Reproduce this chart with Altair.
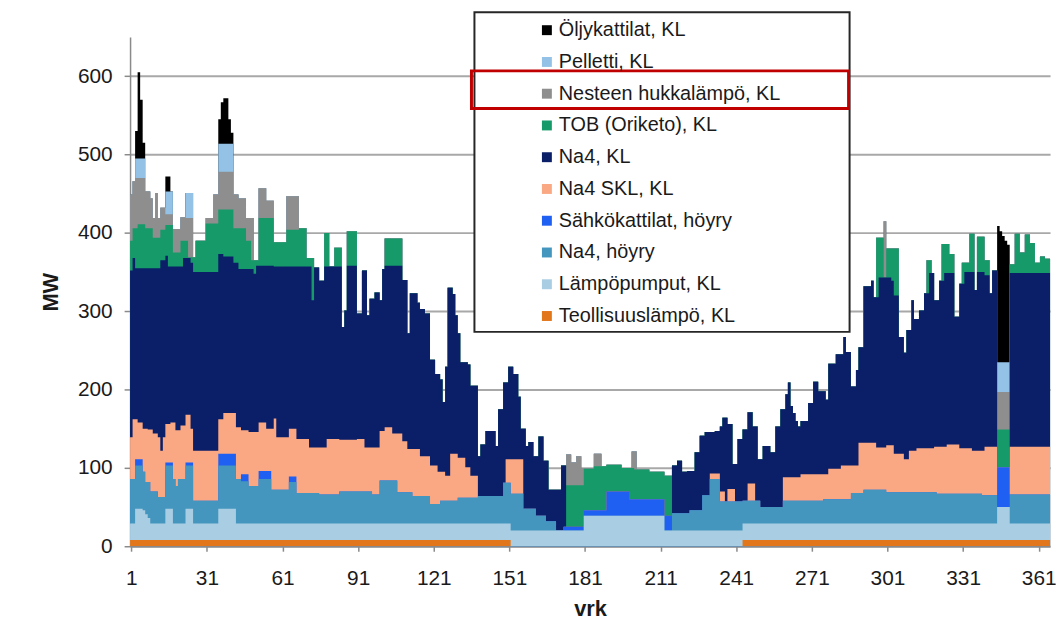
import altair as alt
import pandas as pd

DAYS = 365

# Stack order, bottom to top
SERIES = [
    "Teollisuuslämpö, KL",
    "Lämpöpumput, KL",
    "Na4, höyry",
    "Sähkökattilat, höyry",
    "Na4 SKL, KL",
    "Na4, KL",
    "TOB (Oriketo), KL",
    "Nesteen hukkalämpö, KL",
    "Pelletti, KL",
    "Öljykattilat, KL",
]
COLORS = [
    "#e2761b", "#a9cde3", "#4596bf", "#1f5ff2", "#f9a883",
    "#0b1e68", "#169a6a", "#8e8e8e", "#93c2e6", "#000000",
]

# Upper edge (MW) of each band, as (number of days, level) runs.
# 0 means the band is absent on those days.
top_teollisuus = [(151, 8), (92, 0), (122, 8)]
top_lampopumput = [(2, 29), (3, 48), (1, 46), (1, 41), (1, 36), (6, 29), (3, 48), (5, 29),
                   (3, 48), (10, 29), (7, 48), (109, 29), (29, 20), (32, 39), (31, 20),
                   (101, 29), (5, 50), (16, 29)]
top_na4_hoyry = [(2, 86), (3, 103), (1, 95), (2, 82), (3, 70), (3, 63), (3, 103), (1, 86),
                 (1, 77), (3, 86), (3, 103), (10, 58), (7, 103), (2, 86), (3, 83), (4, 77),
                 (5, 86), (7, 72), (3, 82), (9, 68), (8, 66), (13, 70), (3, 66), (7, 84),
                 (6, 69), (7, 64), (4, 54), (7, 58), (8, 62), (10, 64), (3, 81), (5, 67),
                 (5, 48), (4, 39), (4, 32), (46, 0), (7, 42), (5, 46), (3, 65), (4, 86),
                 (9, 57), (7, 58), (9, 50), (16, 58), (11, 60), (5, 68), (9, 72), (20, 69),
                 (18, 67), (6, 65), (5, 0), (16, 66)]
top_sahko = [(2, 0), (3, 111), (9, 0), (3, 107), (5, 0), (3, 107), (10, 0), (7, 118), (2, 0),
             (3, 92), (4, 0), (5, 96), (7, 0), (3, 89), (106, 0), (8, 25), (9, 46), (9, 70),
             (14, 60), (3, 39), (129, 0), (5, 101), (16, 0)]
top_na4_skl = [(1, 139), (2, 162), (2, 158), (2, 150), (2, 149), (2, 144), (1, 139), (1, 122),
               (1, 139), (2, 156), (2, 158), (2, 148), (2, 154), (2, 168), (1, 150), (10, 122),
               (2, 162), (5, 170), (2, 152), (3, 148), (4, 146), (3, 158), (3, 150), (1, 163),
               (5, 139), (3, 150), (5, 137), (7, 126), (5, 137), (7, 136), (3, 137), (6, 126),
               (2, 147), (3, 152), (4, 144), (2, 134), (5, 124), (4, 115), (3, 103), (3, 95),
               (2, 90), (3, 118), (3, 113), (2, 101), (3, 90), (11, 0), (7, 111), (74, 0),
               (4, 93), (2, 70), (1, 0), (3, 73), (5, 0), (3, 80), (11, 0), (7, 88), (11, 92),
               (5, 99), (7, 103), (7, 132), (4, 126), (3, 129), (4, 118), (2, 111), (3, 122),
               (7, 125), (5, 127), (5, 130), (5, 125), (5, 122), (5, 127), (5, 0), (16, 127)]
top_na4_kl = [(1, 352), (1, 368), (10, 355), (2, 365), (1, 371), (6, 357), (3, 368), (1, 362),
              (10, 350), (2, 373), (4, 370), (2, 362), (6, 354), (1, 348), (7, 358), (15, 357),
              (1, 314), (2, 356), (2, 339), (7, 357), (1, 280), (1, 301), (4, 358), (2, 297),
              (2, 352), (1, 295), (2, 316), (2, 324), (1, 314), (1, 354), (7, 358), (2, 340),
              (1, 272), (3, 323), (1, 311), (2, 303), (2, 297), (2, 238), (2, 220), (1, 213),
              (1, 184), (1, 229), (2, 330), (1, 322), (1, 295), (1, 272), (3, 235), (1, 232),
              (3, 205), (1, 115), (2, 130), (4, 147), (1, 128), (2, 175), (2, 209), (2, 229),
              (2, 220), (1, 191), (2, 150), (1, 128), (2, 133), (2, 115), (2, 140), (2, 109),
              (5, 72), (2, 103), (42, 0), (2, 103), (2, 109), (2, 95), (3, 96), (2, 120),
              (2, 141), (4, 146), (2, 147), (1, 153), (2, 164), (2, 156), (2, 105), (2, 137),
              (2, 149), (2, 171), (2, 153), (2, 111), (3, 128), (2, 120), (2, 153), (2, 175),
              (1, 194), (1, 209), (1, 179), (1, 170), (1, 160), (1, 153), (3, 160), (2, 183),
              (2, 210), (3, 198), (1, 187), (3, 233), (3, 245), (1, 267), (2, 248), (2, 204),
              (1, 225), (2, 254), (3, 332), (1, 339), (2, 318), (5, 343), (1, 339), (2, 320),
              (2, 267), (1, 247), (2, 276), (1, 314), (2, 290), (2, 301), (2, 323), (2, 349),
              (2, 314), (2, 339), (4, 349), (2, 293), (2, 335), (4, 350), (1, 327), (3, 350),
              (2, 346), (1, 323), (2, 352), (5, 0), (16, 349)]
top_tob = [(1, 390), (2, 406), (3, 411), (3, 406), (3, 394), (2, 404), (3, 410), (3, 375),
           (3, 390), (3, 369), (4, 390), (5, 412), (6, 430), (5, 406), (2, 390), (3, 365),
           (6, 419), (5, 388), (5, 404), (3, 406), (3, 368), (4, 0), (2, 400), (2, 0),
           (3, 381), (2, 0), (4, 402), (11, 0), (7, 393), (65, 0), (7, 78), (4, 99), (5, 102),
           (6, 104), (5, 100), (6, 98), (6, 95), (3, 90), (81, 0), (3, 394), (1, 0), (5, 380),
           (11, 0), (2, 365), (4, 0), (3, 386), (2, 373), (3, 0), (3, 362), (2, 399), (1, 0),
           (3, 395), (2, 365), (3, 0), (5, 149), (2, 360), (2, 399), (2, 375), (2, 398),
           (2, 387), (2, 362), (2, 370), (2, 367)]
top_neste = [(1, 449), (1, 466), (4, 470), (2, 453), (1, 444), (1, 419), (1, 451), (1, 419),
             (2, 432), (3, 424), (3, 405), (2, 420), (3, 419), (5, 0), (3, 419), (2, 449),
             (6, 478), (2, 449), (3, 444), (3, 419), (2, 0), (3, 457), (3, 441), (5, 0),
             (5, 447), (106, 0), (2, 117), (2, 107), (2, 115), (1, 100), (4, 0), (3, 118),
             (12, 0), (2, 121), (98, 0), (1, 415), (44, 0), (5, 197), (16, 0)]
top_pelletti = [(2, 0), (4, 495), (8, 0), (3, 453), (5, 0), (3, 451), (10, 0), (6, 514),
                (303, 0), (5, 235), (16, 0)]
top_oljy = [(2, 0), (1, 530), (1, 605), (1, 570), (1, 515), (8, 0), (2, 472), (19, 0),
            (1, 545), (1, 567), (2, 572), (1, 545), (1, 528), (303, 0), (1, 409), (1, 402),
            (1, 396), (1, 390), (1, 385), (16, 0)]

TOPS = [top_teollisuus, top_lampopumput, top_na4_hoyry, top_sahko, top_na4_skl,
        top_na4_kl, top_tob, top_neste, top_pelletti, top_oljy]

X_TICKS = [1, 31, 61, 91, 121, 151, 181, 211, 241, 271, 301, 331, 361]
Y_TICKS = [0, 100, 200, 300, 400, 500, 600]


def expand(runs):
    vals = []
    for n, v in runs:
        vals.extend([v] * n)
    vals = vals[:DAYS]
    while len(vals) < DAYS:
        vals.append(vals[-1])
    return vals


rows = []
prev = [0] * DAYS
for name, runs in zip(SERIES, TOPS):
    read = expand(runs)
    level = [max(p, r) for p, r in zip(prev, read)]
    for d in range(DAYS):
        rows.append({"series": name, "x": d + 0.5, "top": level[d]})
    rows.append({"series": name, "x": DAYS + 0.5, "top": level[-1]})
    prev = level
df = pd.DataFrame(rows)

legend_order = SERIES[::-1]
legend_colors = COLORS[::-1]

x_enc = alt.X(
    "x:Q",
    scale=alt.Scale(domain=[0.5, DAYS + 0.5], nice=False, zero=False),
    axis=alt.Axis(values=X_TICKS, title="vrk", titleFontWeight="bold", grid=False,
                  tickSize=5, labelPadding=17, titlePadding=10, labelFlush=False),
)
y_enc = alt.Y(
    "top:Q",
    stack=None,
    scale=alt.Scale(domain=[0, 650], nice=False),
    axis=alt.Axis(values=Y_TICKS, title="MW", titleFontWeight="bold", grid=True,
                  tickSize=6, labelPadding=12, titlePadding=15),
)
color_enc = alt.Color(
    "series:N",
    scale=alt.Scale(domain=legend_order, range=legend_colors),
    legend=alt.Legend(title=None, orient="none", legendX=410, legendY=-17,
                      symbolType="square", symbolSize=100, symbolStrokeWidth=0,
                      labelFont="Liberation Sans", labelFontSize=20, labelColor="#1a1a1a",
                      rowPadding=12, labelOffset=2, labelLimit=400, padding=0),
)

areas = []
for name in reversed(SERIES):
    areas.append(
        alt.Chart(df)
        .transform_filter(alt.datum.series == name)
        .mark_area(interpolate="step-after")
        .encode(x=x_enc, y=y_enc, color=color_enc)
    )

box_df = pd.DataFrame({"k": [0]})
frame = alt.Chart(box_df).mark_rect(fill="white", stroke="#262626", strokeWidth=2).encode(
    x=alt.value(347), x2=alt.value(725), y=alt.value(-25), y2=alt.value(297)
)
highlight = alt.Chart(box_df).mark_rect(fillOpacity=0, stroke="#c00000", strokeWidth=3).encode(
    x=alt.value(344), x2=alt.value(724), y=alt.value(34), y2=alt.value(72)
)

chart = (
    alt.layer(frame, *areas, highlight)
    .properties(
        width=927,
        height=513,
        padding={"left": 123, "top": 27, "right": 6, "bottom": 75},
        autosize=alt.AutoSizeParams(type="none"),
        background="white",
    )
    .configure_view(strokeWidth=0)
    .configure_axis(
        labelFont="Liberation Sans", titleFont="Liberation Sans",
        labelFontSize=21, titleFontSize=22,
        labelColor="#1a1a1a", titleColor="#1a1a1a",
        domainColor="#8a8a8a", tickColor="#8a8a8a", gridColor="#a8a8a8",
        domainWidth=1.5, tickWidth=1.5, gridWidth=2,
    )
)

chart.save("out.html", embed_options={"renderer": "svg", "actions": False})
